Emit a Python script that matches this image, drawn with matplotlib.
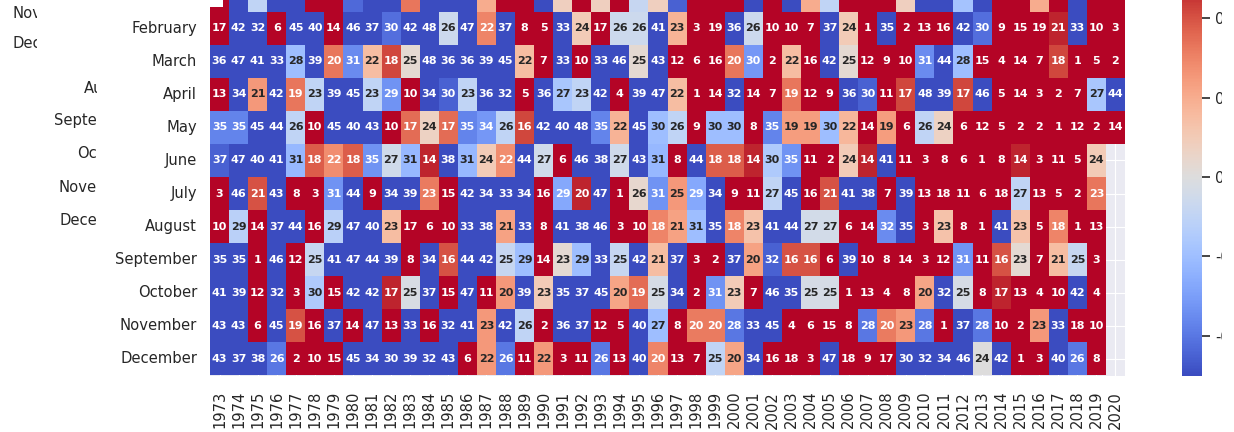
import numpy as np
import matplotlib
matplotlib.use("Agg")
import matplotlib.pyplot as plt
import seaborn as sns
from matplotlib.patches import Rectangle
from matplotlib.transforms import Bbox, TransformedBbox

nan = np.nan

years = list(range(1973, 2021))
months = ["January", "February", "March", "April", "May", "June", "July",
          "August", "September", "October", "November", "December"]

# rank of each month among all years (January row is cut off in the picture)
ranks = [
    [17, 42, 32, 6, 45, 40, 14, 46, 37, 30, 42, 48, 26, 47, 22, 37, 8, 5, 33, 24,
     17, 26, 26, 41, 23, 3, 19, 36, 26, 10, 10, 7, 37, 24, 1, 35, 2, 13, 16, 42,
     30, 9, 15, 19, 21, 33, 10, 3],
    [36, 47, 41, 33, 28, 39, 20, 31, 22, 18, 25, 48, 36, 36, 39, 45, 22, 7, 33, 10,
     33, 46, 25, 43, 12, 6, 16, 20, 30, 2, 22, 16, 42, 25, 12, 9, 10, 31, 44, 28,
     15, 4, 14, 7, 18, 1, 5, 2],
    [13, 34, 21, 42, 19, 23, 39, 45, 23, 29, 10, 34, 30, 23, 36, 32, 5, 36, 27, 23,
     42, 4, 39, 47, 22, 1, 14, 32, 14, 7, 19, 12, 9, 36, 30, 11, 17, 48, 39, 17,
     46, 5, 14, 3, 2, 7, 27, 44],
    [35, 35, 45, 44, 26, 10, 45, 40, 43, 10, 17, 24, 17, 35, 34, 26, 16, 42, 40, 48,
     35, 22, 45, 30, 26, 9, 30, 30, 8, 35, 19, 19, 30, 22, 14, 19, 6, 26, 24, 6,
     12, 5, 2, 2, 1, 12, 2, 14],
    [37, 47, 40, 41, 31, 18, 22, 18, 35, 27, 31, 14, 38, 31, 24, 22, 44, 27, 6, 46,
     38, 27, 43, 31, 8, 44, 18, 18, 14, 30, 35, 11, 2, 24, 14, 41, 11, 3, 8, 6,
     1, 8, 14, 3, 11, 5, 24],
    [3, 46, 21, 43, 8, 3, 31, 44, 9, 34, 39, 23, 15, 42, 34, 33, 34, 16, 29, 20,
     47, 1, 26, 31, 25, 29, 34, 9, 11, 27, 45, 16, 21, 41, 38, 7, 39, 13, 18, 11,
     6, 18, 27, 13, 5, 2, 23],
    [10, 29, 14, 37, 44, 16, 29, 47, 40, 23, 17, 6, 10, 33, 38, 21, 33, 8, 41, 38,
     46, 3, 10, 18, 21, 31, 35, 18, 23, 41, 44, 27, 27, 6, 14, 32, 35, 3, 23, 8,
     1, 41, 23, 5, 18, 1, 13],
    [35, 35, 1, 46, 12, 25, 41, 47, 44, 39, 8, 34, 16, 44, 42, 25, 29, 14, 23, 29,
     33, 25, 42, 21, 37, 3, 2, 37, 20, 32, 16, 16, 6, 39, 10, 8, 14, 3, 12, 31,
     11, 16, 23, 7, 21, 25, 3],
    [41, 39, 12, 32, 3, 30, 15, 42, 42, 17, 25, 37, 15, 47, 11, 20, 39, 23, 35, 37,
     45, 20, 19, 25, 34, 2, 31, 23, 7, 46, 35, 25, 25, 1, 13, 4, 8, 20, 32, 25,
     8, 17, 13, 4, 10, 42, 4],
    [43, 43, 6, 45, 19, 16, 37, 14, 47, 13, 33, 16, 32, 41, 23, 42, 26, 2, 36, 37,
     12, 5, 40, 27, 8, 20, 20, 28, 33, 45, 4, 6, 15, 8, 28, 20, 23, 28, 1, 37,
     28, 10, 2, 23, 33, 18, 10],
    [43, 37, 38, 26, 2, 10, 15, 45, 34, 30, 39, 32, 43, 6, 22, 26, 11, 22, 3, 11,
     26, 13, 40, 20, 13, 7, 25, 20, 34, 16, 18, 3, 47, 18, 9, 17, 30, 32, 34, 46,
     24, 42, 1, 3, 40, 26, 8],
]

# anomaly that drives the colour of each cell (estimated from the shades)
anoms = [
    [0.6, -0.6, -0.1, -0.6, -0.6, 0.6, 0.6, -0.43, -0.6, -0.6,
     0.33, -0.6, -0.6, -0.6, 0.2, 0.6, 0.6, -0.6, 0.08, 0.6,
     0.08, 0.6, -0.08, 0.08, -0.45, 0.6, 0.6, 0.6, -0.6, 0.6,
     -0.6, 0.2, -0.1, 0.6, 0.6, 0.6, 0.08, -0.6, -0.6, -0.18,
     -0.6, 0.6, 0.6, 0.2, 0.6, -0.6, 0.6, 0.6],
    [0.6, -0.6, -0.6, 0.6, -0.6, -0.6, 0.6, -0.6, -0.6, -0.42,
     -0.6, -0.6, -0.06, -0.6, 0.3, -0.6, 0.6, 0.6, -0.6, 0.1,
     0.6, -0.06, -0.06, -0.6, 0.18, 0.6, 0.6, -0.6, -0.06, 0.6,
     0.6, 0.6, -0.6, 0.1, 0.6, -0.6, 0.6, 0.6, 0.6, -0.6,
     -0.42, 0.6, 0.6, 0.6, 0.47, -0.6, 0.6, 0.6],
    [-0.6, -0.6, -0.6, -0.6, -0.2, -0.6, 0.33, -0.35, 0.15, 0.42,
     0.03, -0.6, -0.6, -0.6, -0.6, -0.6, 0.15, 0.6, -0.6, 0.6,
     -0.6, -0.6, 0.03, -0.6, 0.6, 0.6, 0.6, 0.33, -0.32, 0.6,
     0.15, 0.6, -0.6, 0.03, 0.6, 0.6, 0.6, -0.35, -0.6, -0.2,
     0.6, 0.6, 0.6, 0.6, 0.42, 0.6, 0.6, 0.6],
    [0.6, -0.6, 0.25, -0.6, 0.33, -0.1, -0.6, -0.6, -0.1, -0.33,
     0.6, -0.6, -0.45, -0.1, -0.6, -0.6, 0.6, -0.6, -0.17, -0.1,
     -0.6, 0.6, -0.6, -0.6, 0.15, 0.6, 0.6, -0.6, 0.6, 0.6,
     0.33, 0.6, 0.6, -0.6, -0.45, 0.6, 0.42, -0.6, -0.6, 0.42,
     -0.6, 0.6, 0.6, 0.6, 0.6, 0.6, -0.17, -0.6],
    [-0.37, -0.37, -0.6, -0.6, -0.1, 0.6, -0.6, -0.6, -0.6, 0.6,
     0.35, 0.07, 0.35, -0.37, -0.32, -0.1, 0.42, -0.6, -0.6, -0.6,
     -0.37, 0.18, -0.6, -0.2, -0.1, 0.6, -0.2, -0.2, 0.6, -0.37,
     0.24, 0.24, -0.2, 0.17, 0.6, 0.24, 0.6, -0.1, 0.07, 0.6,
     0.6, 0.6, 0.6, 0.6, 0.6, 0.6, 0.6, 0.6],
    [-0.45, -0.6, -0.6, -0.6, -0.22, 0.38, 0.28, 0.38, -0.33, -0.05,
     -0.22, 0.47, -0.6, -0.22, 0.1, 0.28, -0.6, -0.05, 0.6, -0.6,
     -0.6, -0.05, -0.6, -0.22, 0.6, -0.6, 0.38, 0.38, 0.47, -0.15,
     -0.33, 0.6, 0.6, 0.1, 0.47, -0.6, 0.6, 0.6, 0.6, 0.6,
     0.6, 0.6, 0.47, 0.6, 0.6, 0.6, 0.1, nan],
    [0.6, -0.6, 0.4, -0.6, 0.6, 0.6, -0.33, -0.6, 0.6, -0.6,
     -0.6, 0.32, 0.6, -0.6, -0.6, -0.5, -0.6, 0.6, -0.27, 0.47,
     -0.6, 0.6, 0.04, -0.33, 0.25, -0.27, -0.6, 0.6, 0.6, -0.1,
     -0.6, 0.6, 0.4, -0.6, -0.6, 0.6, -0.6, 0.6, 0.6, 0.6,
     0.6, 0.6, -0.1, 0.6, 0.6, 0.6, 0.33, nan],
    [0.6, -0.12, 0.6, -0.6, -0.6, 0.6, -0.12, -0.6, -0.6, 0.15,
     0.6, 0.6, 0.6, -0.6, -0.6, 0.23, -0.6, 0.6, -0.6, -0.6,
     -0.6, 0.6, 0.6, 0.3, 0.23, -0.2, -0.6, 0.3, 0.13, -0.6,
     -0.6, -0.04, -0.04, 0.6, 0.6, -0.35, -0.6, 0.6, 0.13, 0.6,
     0.6, -0.6, 0.13, 0.6, 0.3, 0.6, 0.6, nan],
    [-0.6, -0.6, 0.6, -0.6, 0.6, -0.08, -0.6, -0.6, -0.6, -0.6,
     0.6, -0.6, 0.4, -0.6, -0.6, -0.08, -0.2, 0.6, 0.03, -0.2,
     -0.6, -0.08, -0.6, 0.15, -0.6, 0.6, 0.6, -0.6, 0.23, -0.45,
     0.4, 0.4, 0.6, -0.6, 0.6, 0.6, 0.6, 0.6, 0.6, -0.33,
     0.6, 0.4, 0.03, 0.6, 0.15, -0.08, 0.6, nan],
    [-0.6, -0.6, 0.6, -0.6, 0.6, -0.15, 0.6, -0.6, -0.6, 0.47,
     -0.02, -0.6, 0.6, -0.6, 0.6, 0.25, -0.6, 0.1, -0.6, -0.6,
     -0.6, 0.22, 0.35, -0.03, -0.6, 0.6, -0.33, 0.1, 0.6, -0.6,
     -0.6, -0.03, -0.03, 0.6, 0.6, 0.6, 0.6, 0.22, -0.6, -0.03,
     0.6, 0.47, 0.6, 0.6, 0.6, -0.6, 0.6, nan],
    [-0.6, -0.6, 0.6, -0.6, 0.4, 0.6, -0.6, 0.6, -0.6, 0.6,
     -0.6, 0.6, -0.6, -0.6, 0.25, -0.6, -0.1, 0.6, -0.6, -0.6,
     0.6, 0.6, -0.6, -0.2, 0.6, 0.32, 0.32, -0.4, -0.6, -0.6,
     0.6, 0.6, 0.6, 0.6, -0.4, 0.32, 0.25, -0.4, 0.6, -0.6,
     -0.4, 0.6, 0.6, 0.25, -0.6, 0.6, 0.6, nan],
    [-0.6, -0.6, -0.6, -0.4, 0.6, 0.6, 0.6, -0.6, -0.6, -0.6,
     -0.6, -0.6, -0.6, 0.6, 0.25, -0.4, 0.6, 0.25, 0.6, 0.6,
     -0.4, 0.6, -0.6, 0.3, 0.6, 0.6, -0.1, 0.22, -0.6, 0.6,
     0.6, 0.6, -0.6, 0.6, 0.6, 0.6, -0.6, -0.6, -0.6, -0.6,
     0.0, -0.6, 0.6, 0.6, -0.6, -0.4, 0.6, nan],
]

cbar_ticks = [-0.4, -0.2, 0.0, 0.2, 0.4]

W, H = 1234, 432

vals = np.array(anoms, dtype=float)
annot = np.full(vals.shape, "", dtype=object)
for i, row in enumerate(ranks):
    annot[i + 1, :len(row)] = [str(r) for r in row]

sns.set_style("darkgrid")
fig = plt.figure(figsize=(W / 100, H / 100), dpi=100)
fig.patch.set_facecolor("white")

# the picture is a crop: January row and top of colorbar sit above the frame
bottom = 1 - 375.5 / H
height = 397 / H
ax = fig.add_axes([210 / W, bottom, 915 / W, height])
cax = fig.add_axes([1182 / W, bottom, 20 / W, height])

sns.heatmap(vals, mask=np.isnan(vals), cmap="coolwarm", vmin=-0.5, vmax=0.5,
            annot=annot, fmt="", annot_kws={"size": 8, "weight": "bold"},
            xticklabels=years, yticklabels=months, ax=ax, cbar_ax=cax)

ax.set_xticklabels(years, rotation=90, fontsize=10.6)
ax.set_yticklabels(months, rotation=0, fontsize=10.6)
ax.tick_params(axis="x", length=0, pad=11)
ax.tick_params(axis="y", length=0, pad=9.4)
# January label lies outside the cropped frame in the reference
ax.get_yticklabels()[0].set_visible(False)

cax.set_yticks(cbar_ticks)
cax.set_yticklabels([f"{t:.1f}" for t in cbar_ticks])
cax.tick_params(axis="y", length=6, width=1.2, color="#262626",
                labelsize=10.6, pad=3.5)

# bits of labels from a neighbouring plot, cut by the crop
clip1 = TransformedBbox(Bbox.from_extents(0, 0, 36.5 / W, 1), fig.transFigure)
for name, y in [("November", 13), ("December", 43)]:
    t = fig.text(13 / W, 1 - y / H, name, ha="left", va="center",
                 fontsize=10.6, color="#262626")
    t.set_clip_box(clip1)
    t.set_clip_on(True)

clip2 = TransformedBbox(Bbox.from_extents(0, 0, 97 / W, 1), fig.transFigure)
for name, y in [("August", 88), ("September", 121), ("October", 154),
                ("November", 187), ("December", 220)]:
    t = fig.text(136 / W, 1 - y / H, name, ha="right", va="center",
                 fontsize=10.6, color="#262626")
    t.set_clip_box(clip2)
    t.set_clip_on(True)

# white edges of the crop
fig.add_artist(Rectangle((205 / W, 1 - 7 / H), 18 / W, 7 / H, transform=fig.transFigure,
                         facecolor="white", edgecolor="none", zorder=10))
fig.add_artist(Rectangle((1222 / W, 0), 12 / W, 1, transform=fig.transFigure,
                         facecolor="white", edgecolor="none", zorder=10))

fig.savefig("out.png", dpi=100)
